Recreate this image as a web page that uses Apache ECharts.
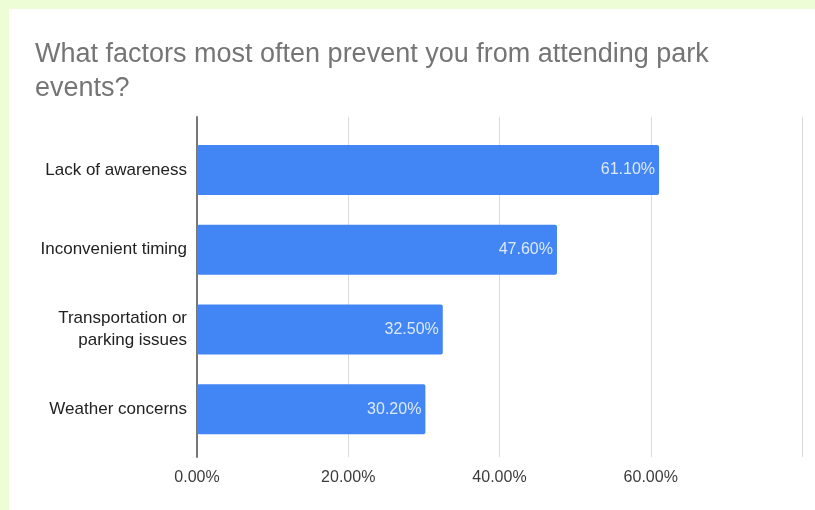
<!DOCTYPE html>
<html>
<head>
<meta charset="utf-8">
<script src="https://cdn.jsdelivr.net/npm/echarts@6/dist/echarts.min.js"></script>
<style>
  html, body { margin: 0; padding: 0; width: 815px; height: 510px; background: #edfdd6; overflow: hidden; }
  #chart { position: absolute; left: 9px; top: 9px; width: 806px; height: 501px; background: #ffffff; }
</style>
</head>
<body>
<div id="chart"></div>
<script>
const titleText = "What factors most often prevent you from attending park\nevents?";
const categories = ["Lack of awareness", "Inconvenient timing", "Transportation or\nparking issues", "Weather concerns"];
const values = [61.1, 47.6, 32.5, 30.2];
const axisMin = 0;
const axisMax = 80;
const axisInterval = 20;

const chart = echarts.init(document.getElementById('chart'), null, { renderer: 'canvas' });
const fontFam = '"Liberation Sans", Arial, sans-serif';
chart.setOption({
  animation: false,
  backgroundColor: '#ffffff',
  title: {
    text: titleText,
    left: 26,
    top: 29,
    padding: 0,
    textStyle: { fontFamily: fontFam, fontSize: 27, fontWeight: 'normal', color: '#757575', lineHeight: 34 }
  },
  grid: [
    { left: 188, right: 13, top: 108, bottom: 53, containLabel: false },
    { left: 188, right: 13, top: 121, bottom: 61, containLabel: false }
  ],
  xAxis: [
    {
      gridIndex: 0, type: 'value', min: axisMin, max: axisMax, interval: axisInterval,
      axisLine: { show: false }, axisTick: { show: false },
      splitLine: { show: true, lineStyle: { color: '#dadada', width: 1 } },
      axisLabel: {
        showMaxLabel: false, margin: 13,
        fontFamily: fontFam, fontSize: 16, color: '#3c3c3c',
        formatter: v => v.toFixed(2) + '%'
      }
    },
    {
      gridIndex: 1, type: 'value', min: axisMin, max: axisMax, interval: axisInterval,
      show: false
    }
  ],
  yAxis: [
    {
      gridIndex: 0, type: 'value', min: 0, max: 1,
      axisLine: { show: true, onZero: false, lineStyle: { color: '#777777', width: 2 } },
      axisTick: { show: false }, axisLabel: { show: false }, splitLine: { show: false }
    },
    {
      gridIndex: 1, type: 'category', data: categories, inverse: true,
      axisLine: { show: false }, axisTick: { show: false },
      axisLabel: { margin: 10, fontFamily: fontFam, fontSize: 17, color: '#222222', lineHeight: 22, align: 'right' }
    }
  ],
  series: [
    {
      type: 'bar', xAxisIndex: 1, yAxisIndex: 1,
      data: values,
      barWidth: 50,
      itemStyle: { color: '#4285f4', borderRadius: 2 },
      label: {
        show: true, position: 'insideRight', distance: 4,
        fontFamily: fontFam, fontSize: 16, color: 'rgba(255,255,255,0.82)',
        formatter: p => p.value.toFixed(2) + '%'
      }
    }
  ]
});
</script>
</body>
</html>
